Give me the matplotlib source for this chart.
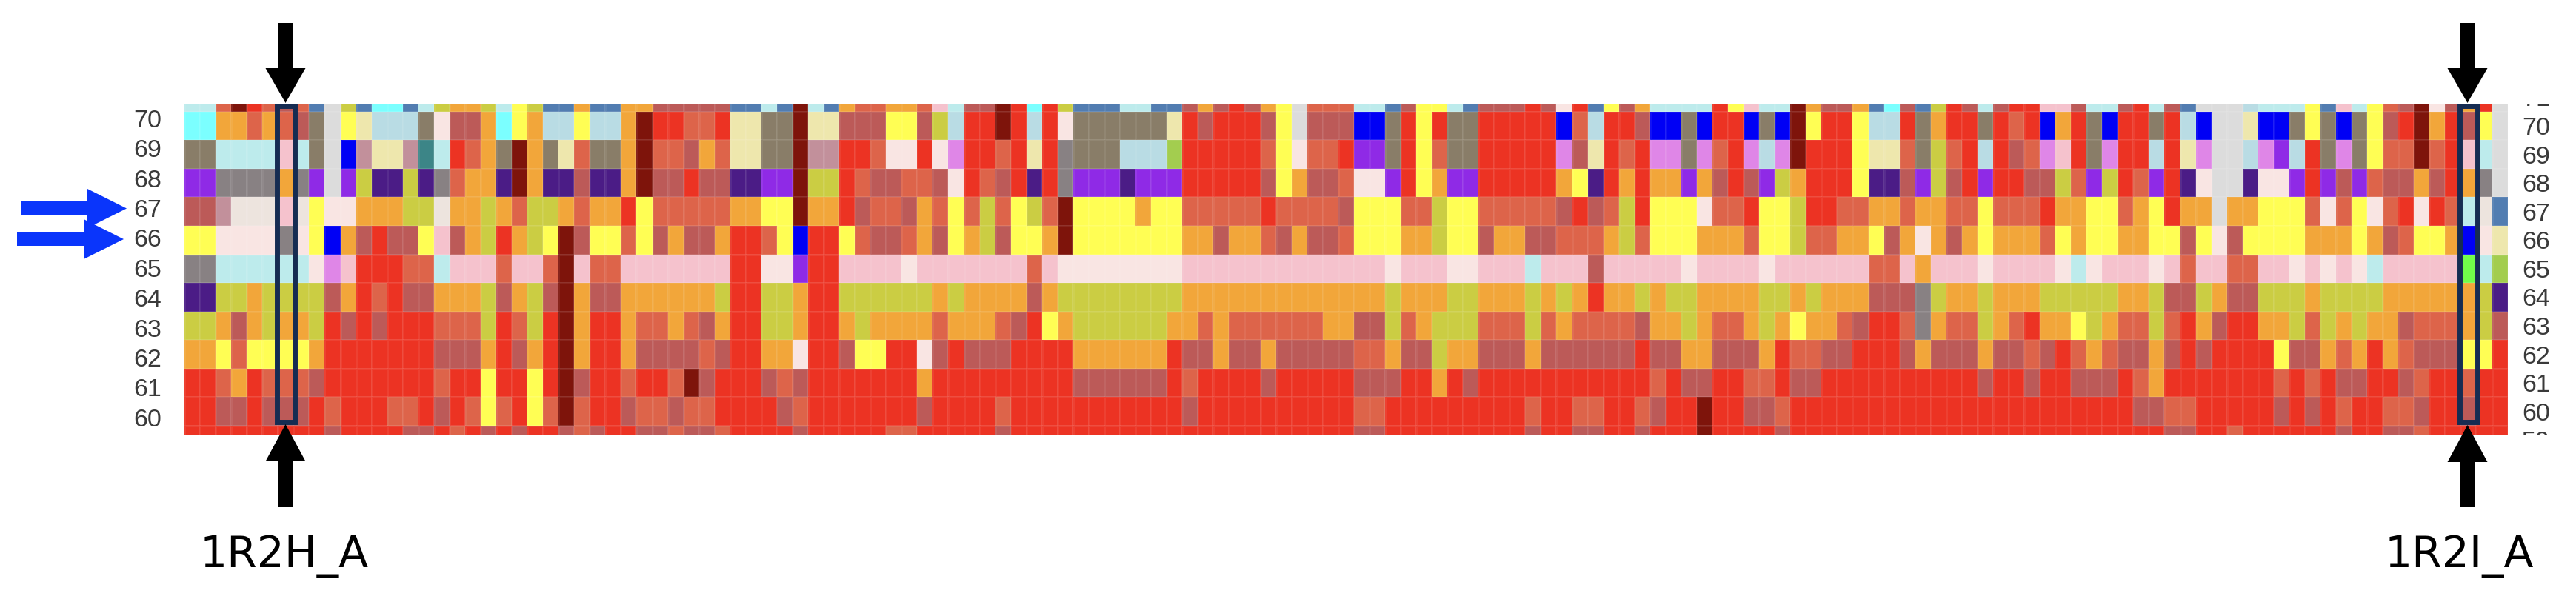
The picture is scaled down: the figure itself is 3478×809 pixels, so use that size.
import numpy as np
import matplotlib
matplotlib.use('Agg')
import matplotlib.pyplot as plt
from matplotlib.colors import ListedColormap
from matplotlib.patches import Rectangle

W, H = 3478, 809

# one letter per column, 149 columns, top row first
row_71 = ("CCOZROBONDGNccNCGAAGCYGNNANN" "AABBBBBNNCNZCNAOOAAOPCBBZRcRG" "NNNCCNNBABRBAYDOOOCCNBYYCNBB"
          "BRBWRNYBACCCCRYPCCZABBANcBNGR" "BCBRRPPBCCBRCBNDDDLCCCYNPCYOBZWBARD")
row_70 = ("ccAAOAOBTDYKLLLTWBBAcYALLYLL" "AZRROORKKTTZKKBBBYYBGLRRZRLRW" "TTTTTTKRBRRRBYDBBBUUTRYRTTRR"
          "RRRUOLRRBUUTURRUTUZYRRYLLRTAR" "RTRORUARTURRTRLUDDKUUTYTUTYBRZARBYD")
row_69 = ("TTCCCCPCTDUmKKmFCROATZATKOTT" "AZOOBAOKKTTZmmRROWWRWMRRORKRS" "TTTLLLyRRRRROYWOORVVTRYOTTRR"
          "RRRMBKRORMMTMORMLMZRRRYKKOTGO" "RLRBOMPRTMRRLRKMDDLMVLRTMTYOOZORPCD")
row_68 = ("VVSSSSASVDVGIIGISOAAIZAIIBII" "AZBBRBBIIVVZGGROBBOOBWROBRIRS" "VVVIVVVRRRRRBYABBOWWVRYAVVRR"
          "RRRAYIRARAAVABRBVGARRRYIIBVGB" "RVRRBBGOVGROVRIWDDIWWVRVBVOBBABRASD")
row_67 = ("BBmEEEPEYWWAAAGGEAAGAOGGAOAA" "RYOOOOOAAYYZAARBOOBAOYOGOYGOZ" "YYYYAYYOOOOOROOOOBYYYOOGYYOO"
          "OOOBRBOGRYYYWOORYYGRROOAAOAAO" "OYOOORAAYYOAYRAADAAYYYOWOYWORWROCEN")
row_66 = ("YYWWWWSWYUABRBBYPBAGRAGYZBYY" "OYBABBARROYURRYOBBOABYAGBYYAZ" "YYYYYYYAABAAOBABBOYYYAAGYYBA"
          "ABBOOOAGOYYYAAAOYYGOOAAYBAWAB" "AYAAAOYAYYAAYYBYWBYYYYAAAYABOYYAUWK")
row_65 = ("SSCCCCCCWMPRRROOCPPPOPPOZPOO" "PPPPPPPRRWWVRRPPPPWPPPPPPPOPW" "WWWWWWWPPPPPPPPPPPPPWPPPWWPP"
          "PCPPPBPPPPPWPPPPWPPPPPPOOPAPP" "PWPPPPWCWPPPWPOPPOOPPWPWPWCPPPPPgCy")
row_64 = ("IIGGAGGGGBARORBBAAAGBAGBZABB" "AAAAAAGRRGGARRGGGGGGAGAAAABAG" "GGGGGGGAAAAAAAAAAAAAGAAAGGAA"
          "AGAGARAAGAGGAAAAGGAGAAABBBSGA" "AGAAAGGGGGAAGBBGABBGGGAGGGGAAAAAAGI")
row_63 = ("GGABAGAAGRBRBRRROOOGROGRZARR" "AOOAOBARRGGARRAGAAAAOAAAOBRYA" "GGGGGGAAOAOOOOOOAABBGOAGGGOO"
          "OGOAOOOOBAAGAOOAGAYAAOBRROSAO" "OGAORAAYGAOOGORABRRAAGOGAGAABOOOAGB")
row_62 = ("AAYOYYYYARRRRRRRBBBARBARZARR" "ABBBBOBRRAAWRRBYYRRWBRBBBRRRR" "AAAAAARBBABBABBBBBOOABBGAABB"
          "BABBBBBBRBBAABBBAROOBBRRRBABB" "BABBOBROAOBBABRBRRRRYBBAOARAOBBBYYR")
row_61 = ("RROAROOOBRRRRRRRORRYRRYRZBRR" "ORROZBRRRBOBRRRRRRRARRRRRRRRR" "BBBBBBRORRRRBRRRRRBBBRRARBRR"
          "RRRRRRRRRORBBRROORBBRRRRRRRRR" "RBRRBRRBBBROARRRRRRRORORBBRRBORRORR")
row_60 = ("RRBBRBBBRORRROORBROYORYOZORR" "BOOBOORRRRBORRRRRRRBRRRRORRRR" "RRRRRRRBRRRRRRRRRROORRRRRRRR"
          "RORROORROBRRZRRBBORRRRRRRRRRR" "RRRRRRRRRRRBBOORRRRRBRBRORROOBRRBRR")
row_59 = ("RRRRRRRRRBRRRRBBRORBRBRRBOBR" "RBBOBBORRRRBRRRRROORRRRRBRRRR" "RRRRRRRRRRRRRRRRRRBBRRRRRRRR"
          "RBRRBBRRBRRRZRRRRBRRRRRRRRRRR" "RRRRRRRRRRRRRBBRRORRRRRRBRRBBORRRRR")

rows = [row_71, row_70, row_69, row_68, row_67, row_66, row_65,
        row_64, row_63, row_62, row_61, row_60, row_59]
row_numbers = [71, 70, 69, 68, 67, 66, 65, 64, 63, 62, 61, 60, 59]
tick_numbers = [70, 69, 68, 67, 66, 65, 64, 63, 62, 61, 60]

marked_columns = [6, 146]
marked_names = ['1R2H_A', '1R2I_A']

colores = {
    'R': '#ec3323', 'O': '#dd644a', 'B': '#bc5a58', 'A': '#f2a63a', 'Y': '#fffe54',
    'G': '#cbcd43', 'P': '#f5c2cd', 'W': '#f9e5e3', 'C': '#bdebec', 'L': '#b9dce4',
    'K': '#eee7ad', 'T': '#897d68', 'S': '#888183', 'V': '#8f2ae6', 'I': '#4b1c86',
    'U': '#0000f5', 'Z': '#7e140b', 'D': '#dcdcdc', 'N': '#527db1', 'c': '#7bffff',
    'M': '#df86e7', 'm': '#c2909b', 'E': '#ede4de', 'F': '#3c8587', 'g': '#72fd4a',
    'y': '#a3cd4f',
}

letras = list(colores.keys())
for r in rows:
    assert len(r) == 149, len(r)
grid = np.array([[letras.index(ch) for ch in r] for r in rows])
cmap = ListedColormap([colores[k] for k in letras])

fig = plt.figure(figsize=(W / 100, H / 100), dpi=100)
plt.rcParams['font.family'] = ['Liberation Sans', 'DejaVu Sans']

# main heatmap
left, right, top, bottom = 249, 3385.6, 139.5, 587.8
ax = fig.add_axes([left / W, 1 - bottom / H, (right - left) / W, (bottom - top) / H])
x_edges = np.arange(150) - 0.5
y_edges = np.array(row_numbers + [58]) + 0.5
ax.pcolormesh(x_edges, y_edges, grid, cmap=cmap, vmin=-0.5, vmax=len(letras) - 0.5,
              edgecolors=(1, 1, 1, 0.07), linewidth=1.0)
ax.set_xlim(-0.5, 148.5)
ax.set_ylim(59.17, 70.79)
ax.axis('off')

# boxes around the two marked columns
for col in marked_columns:
    ax.add_patch(Rectangle((col - 0.57, 59.64), 1.14, 11.07, fill=False,
                           edgecolor='#162c52', linewidth=5.0, clip_on=False, zorder=5))

label_color = '#3a3a3a'

# left labels do not line up exactly with the rows in the original
for n in tick_numbers:
    y = 160 + (70 - n) * 40.36
    fig.text(218 / W, 1 - y / H, str(n), ha='right', va='center_baseline', fontsize=24.5,
             color=label_color, family='Liberation Sans')

# right labels follow the rows and get cut by the map height
ax_r = fig.add_axes([3390 / W, 1 - bottom / H, 88 / W, (bottom - top) / H])
ax_r.set_xlim(3390, 3478)
ax_r.set_ylim(59.17, 70.79)
ax_r.axis('off')
for n in row_numbers:
    ax_r.text(3405, n, str(n), ha='left', va='center_baseline', fontsize=24.5,
              color=label_color, family='Liberation Sans', clip_on=True)

# overlay in pixels for the arrows and names
over = fig.add_axes([0, 0, 1, 1])
over.set_xlim(0, W)
over.set_ylim(H, 0)
over.axis('off')
over.patch.set_alpha(0)


def seta_vertical(cx, y_tail, y_base, y_tip, half_shaft, half_head):
    xs = [cx - half_shaft, cx + half_shaft, cx + half_shaft, cx + half_head, cx,
          cx - half_head, cx - half_shaft]
    ys = [y_tail, y_tail, y_base, y_base, y_tip, y_base, y_base]
    over.fill(xs, ys, color='black', linewidth=0)


def seta_azul(x_tail, x_base, x_tip, cy, half_shaft, half_head):
    xs = [x_tail, x_base, x_base, x_tip, x_base, x_base, x_tail]
    ys = [cy - half_shaft, cy - half_shaft, cy - half_head, cy, cy + half_head,
          cy + half_shaft, cy + half_shaft]
    over.fill(xs, ys, color='#0a35fb', linewidth=0)


seta_vertical(385.5, 31, 92, 139, 9.5, 27)
seta_vertical(385.5, 685, 623, 573, 9.5, 27)
seta_vertical(3331.5, 31, 92, 139, 9.5, 27)
seta_vertical(3331.5, 685, 624, 574, 9.5, 27)

seta_azul(29, 117, 171, 281.5, 9.5, 27)
seta_azul(23, 113, 167, 323, 9, 27)

over.text(384, 766, marked_names[0], ha='center', va='baseline', fontsize=42,
          color='black', family='DejaVu Sans')
over.text(3320, 766, marked_names[1], ha='center', va='baseline', fontsize=42,
          color='black', family='DejaVu Sans')

plt.savefig('out.png', dpi=100)
